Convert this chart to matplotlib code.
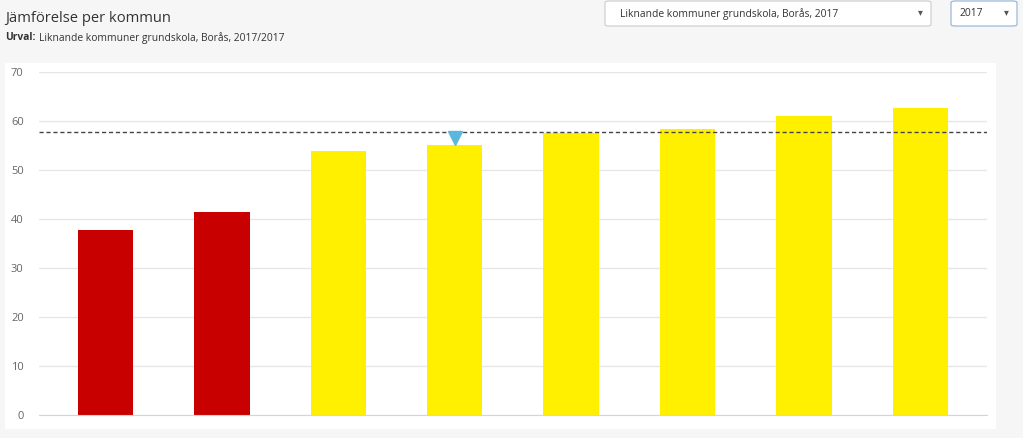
import matplotlib
matplotlib.use("Agg")
import matplotlib.pyplot as plt
from matplotlib.patches import Rectangle, FancyBboxPatch
import matplotlib.transforms as mtransforms

# ── Data ────────────────────────────────────────────────────────────────────
kommuner = ["K1", "K2", "K3", "K4", "K5", "K6", "K7", "K8"]
values = [37.8, 41.4, 53.9, 55.1, 57.6, 58.4, 61.0, 62.7]
status = ["low", "low", "mid", "mid", "mid", "mid", "mid", "mid"]
selected = "K4"          # Borås, marked with triangle
reference = 57.8         # dashed comparison line
yticks = [0, 10, 20, 30, 40, 50, 60, 70]

title = "Jämförelse per kommun"
urval = "Liknande kommuner grundskola, Borås, 2017/2017"
dropdown1 = "Liknande kommuner grundskola, Borås, 2017"
dropdown2 = "2017"

# ── Style ───────────────────────────────────────────────────────────────────
RED = "#c80000"
YELLOW = "#fff000"
MARK = "#5bb8dc"
BG = "#f6f6f6"
TXT = "#333333"
COLORS = {"low": RED, "mid": YELLOW}
plt.rcParams["font.family"] = ["Open Sans", "DejaVu Sans"]

W, H = 1023, 438
fig = plt.figure(figsize=(W / 100, H / 100), dpi=100)
fig.patch.set_facecolor(BG)


def px(x, y):
    return x / W, 1 - y / H


# white panel behind the chart
x0, y0 = px(5, 429)
fig.patches.append(Rectangle((x0, y0), 991 / W, 366 / H, transform=fig.transFigure,
                             facecolor="white", edgecolor="none", zorder=-1))

# header texts
fig.text(*px(5, 18), title, fontsize=10.6, color=TXT, va="center", ha="left")
fig.text(*px(5, 38), "Urval:", fontsize=7.4, color=TXT, va="center",
         ha="left", fontweight="bold")
fig.text(*px(39, 38), urval, fontsize=7.4, color=TXT, va="center", ha="left")

# dropdown boxes
for (bx0, bx1, label, edge) in [(605, 931, dropdown1, "#cccccc"),
                                (951, 1017, dropdown2, "#8fb1d6")]:
    lx, ly = px(bx0, 26)
    fig.patches.append(FancyBboxPatch((lx, ly), (bx1 - bx0) / W, 25 / H,
                                      boxstyle="round,pad=0,rounding_size=0.004",
                                      transform=fig.transFigure, facecolor="white",
                                      edgecolor=edge, linewidth=0.8, zorder=1))
    fig.text(*px(bx0 + (15 if bx0 < 900 else 9), 14), label, fontsize=7.4,
             color=TXT, va="center", ha="left", zorder=2)
    fig.text(*px(bx1 - 11, 13), "▾", fontsize=7, color="#555555",
             va="center", ha="center", zorder=2)

# ── Chart ───────────────────────────────────────────────────────────────────
ax = fig.add_axes([39 / W, 1 - 415 / H, (987 - 39) / W, (415 - 72) / H])
ax.set_zorder(2)
ax.set_facecolor("none")
xs = list(range(len(kommuner)))
ax.bar(xs, values, width=0.477, color=[COLORS[s] for s in status], zorder=2)
ax.set_xlim(-0.571, 7.572)
ax.set_ylim(0, 70)
ax.set_yticks(yticks)
ax.set_xticks([])
ax.yaxis.grid(True, color="#e6e6e6", linewidth=1, zorder=0)
ax.set_axisbelow(True)
ax.tick_params(axis="y", length=0, pad=11, labelsize=8, labelcolor="#666666")
for sp in ["top", "right", "left"]:
    ax.spines[sp].set_visible(False)
ax.spines["bottom"].set_color("#ccd6eb")
ax.spines["bottom"].set_zorder(3)

ax.axhline(reference, color="#444444", lw=1, ls=(0, (3, 2)), zorder=4)

i = kommuner.index(selected)
off = mtransforms.offset_copy(ax.transData, fig=fig, x=0, y=5, units="points")
ax.plot([i], [values[i]], marker="v", markersize=9.5, color=MARK,
        transform=off, zorder=5, clip_on=False)

fig.savefig("out.png", dpi=100, facecolor=BG)
